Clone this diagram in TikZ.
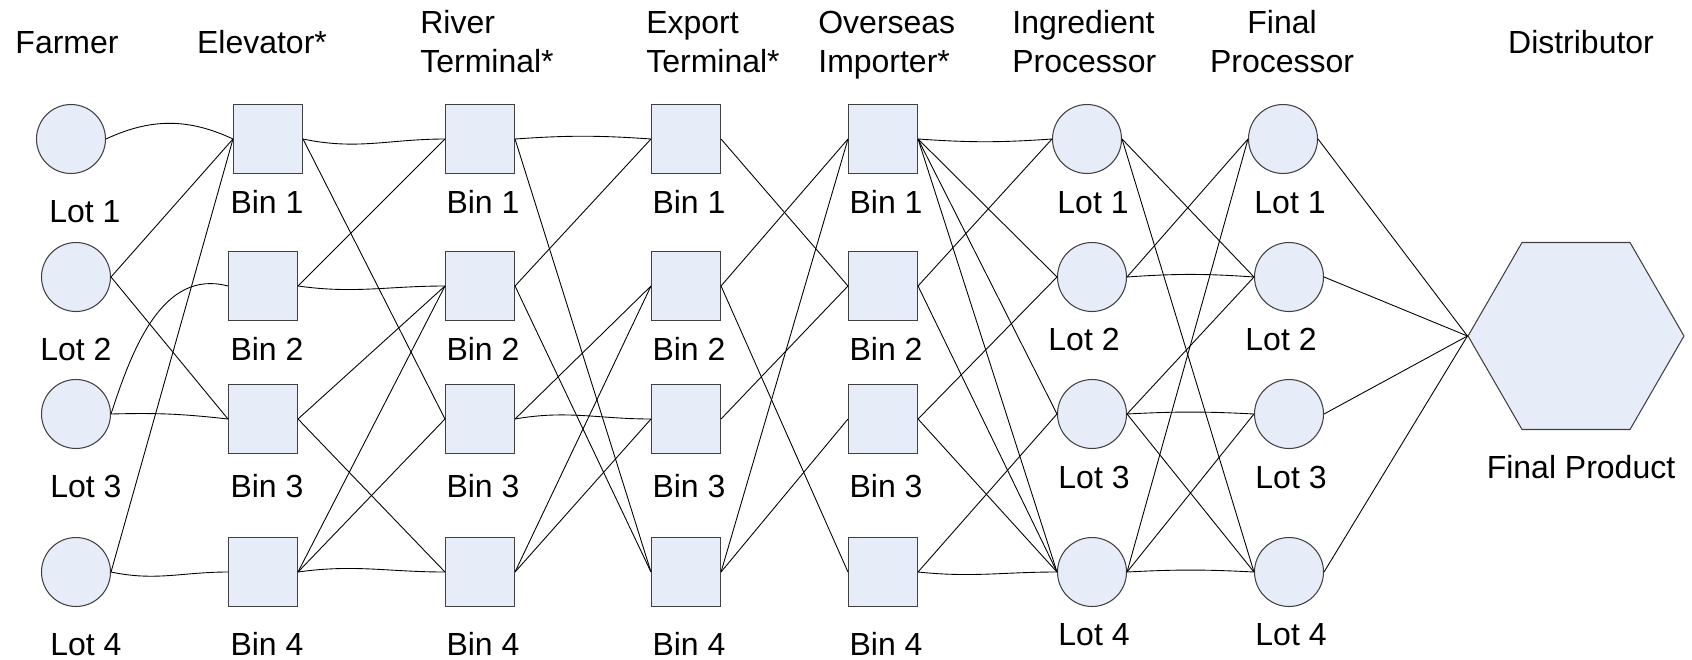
\documentclass[tikz,border=0pt]{standalone}
\usepackage{fontspec}
\setmainfont{Liberation Sans}
\usetikzlibrary{positioning,shapes.geometric}
\definecolor{boxfill}{RGB}{230,237,248}
\definecolor{boxline}{RGB}{64,64,64}

\begin{document}
\begin{tikzpicture}[x=0.02cm, y=-0.02cm,
    lot/.style={circle, draw=boxline, fill=boxfill, line width=0.6pt, minimum size=1.38cm, inner sep=0pt},
    bin/.style={rectangle, draw=boxline, fill=boxfill, line width=0.6pt, minimum size=1.38cm, inner sep=0pt},
    link/.style={line width=0.5pt},
    tag/.style={font=\fontsize{18.2}{22.2}\selectfont, inner sep=0pt, anchor=base},
    head/.style={font=\fontsize{18.2}{22.2}\selectfont, inner sep=0pt, align=left, anchor=west}]
  \useasboundingbox (0,0) rectangle (1692,659);

  % Headers
  \node[tag] (hfarm) at (67,53) {Farmer};
  \node[tag] (helev) at (262,53) {Elevator*};
  \node[head] (hriver) at (420,42) {River\\Terminal*};
  \node[head] (hexport) at (646,42) {Export\\Terminal*};
  \node[head] (hover) at (818,45) {Overseas\\Importer*};
  \node[head] (hingr) at (1012,42) {Ingredient\\Processor};
  \node[head, align=center, anchor=center] (hfinal) at (1282,42) {Final\\Processor};
  \node[tag] (hdist) at (1581,53) {Distributor};

  % Farmer lots
  \node[lot] (fa1) at (71,139) {};
  \foreach \i/\y in {2/277,3/414,4/572}
    \node[lot] (fa\i) at (76,\y) {};

  % Bins
  \node[bin] (el1) at (268,139) {};
  \foreach \i/\y in {2/286,3/419,4/572}
    \node[bin] (el\i) at (263,\y) {};
  \foreach \c/\x in {rt/480,et/686,oi/883}
    \foreach \i/\y in {1/139,2/286,3/419,4/572}
      \node[bin] (\c\i) at (\x,\y) {};

  % Processor lots
  \node[lot] (ip1) at (1087,139) {};
  \foreach \i/\y in {2/277,3/414,4/572}
    \node[lot] (ip\i) at (1092,\y) {};
  \node[lot] (fp1) at (1283,139) {};
  \foreach \i/\y in {2/277,3/414,4/572}
    \node[lot] (fp\i) at (1289,\y) {};

  % Final product
  \node[regular polygon, regular polygon sides=6, draw=boxline, fill=boxfill, line width=0.6pt,
        minimum size=4.32cm, inner sep=0pt] (prod) at (1576,336) {};

  % Labels
  \foreach \i/\x/\y in {1/85/222,2/76/360,3/86/497,4/86/655}
    \node[tag] (lfa\i) at (\x,\y) {Lot \i};
  \foreach \c/\x in {el/267,rt/483,et/689,oi/886}
    \foreach \i/\y in {1/213,2/360,3/497,4/655}
      \node[tag] (l\c\i) at (\x,\y) {Bin \i};
  \foreach \i/\x/\y in {1/1093/213,2/1084/350,3/1094/488,4/1094/645}
    \node[tag] (lip\i) at (\x,\y) {Lot \i};
  \foreach \i/\x/\y in {1/1290/213,2/1281/350,3/1291/488,4/1291/645}
    \node[tag] (lfp\i) at (\x,\y) {Lot \i};
  \node[tag] (lprod) at (1581,478) {Final Product};

  % Curved links
  \draw[link] (fa1.east) to[bend left=25] (el1.west);
  \draw[link] (fa3.east) to[out=72,in=165] (el2.west);
  \draw[link] (fa3.east) to[bend left=4] (el3.west);
  \draw[link] (fa4.east) to[out=-12,in=180] (el4.west);
  \draw[link] (el1.east) to[out=-12,in=180] (rt1.west);
  \draw[link] (el2.east) to[out=-8,in=180] (rt2.west);
  \draw[link] (el4.east) to[out=8,in=180] (rt4.west);
  \draw[link] (rt1.east) to[bend left=4] (et1.west);
  \draw[link] (rt3.east) to[out=10,in=180] (et3.west);
  \draw[link] (oi1.east) to[bend right=4] (ip1.west);
  \draw[link] (oi4.east) to[out=-6,in=180] (ip4.west);
  \draw[link] (ip2.east) to[bend left=4] (fp2.west);
  \draw[link] (ip3.east) to[bend left=3] (fp3.west);
  \draw[link] (ip4.east) to[bend left=3] (fp4.west);

  % Straight links
  \foreach \a/\b in {fa2/el1, fa2/el3, fa4/el1,
      el1/rt3, el2/rt1, el3/rt2, el3/rt4, el4/rt2, el4/rt3,
      rt1/et4, rt2/et1, rt2/et4, rt3/et2, rt4/et2, rt4/et3,
      et1/oi2, et2/oi1, et2/oi4, et3/oi2, et4/oi1, et4/oi3,
      oi1/ip2, oi1/ip3, oi1/ip4, oi2/ip1, oi2/ip4, oi3/ip2, oi3/ip4, oi4/ip3,
      ip1/fp2, ip1/fp4, ip2/fp1, ip3/fp2, ip3/fp4, ip4/fp1, ip4/fp3}
    \draw[link] (\a.east) -- (\b.west);
  \foreach \i in {1,...,4}
    \draw[link] (fp\i.east) -- (prod.west);
\end{tikzpicture}
\end{document}
